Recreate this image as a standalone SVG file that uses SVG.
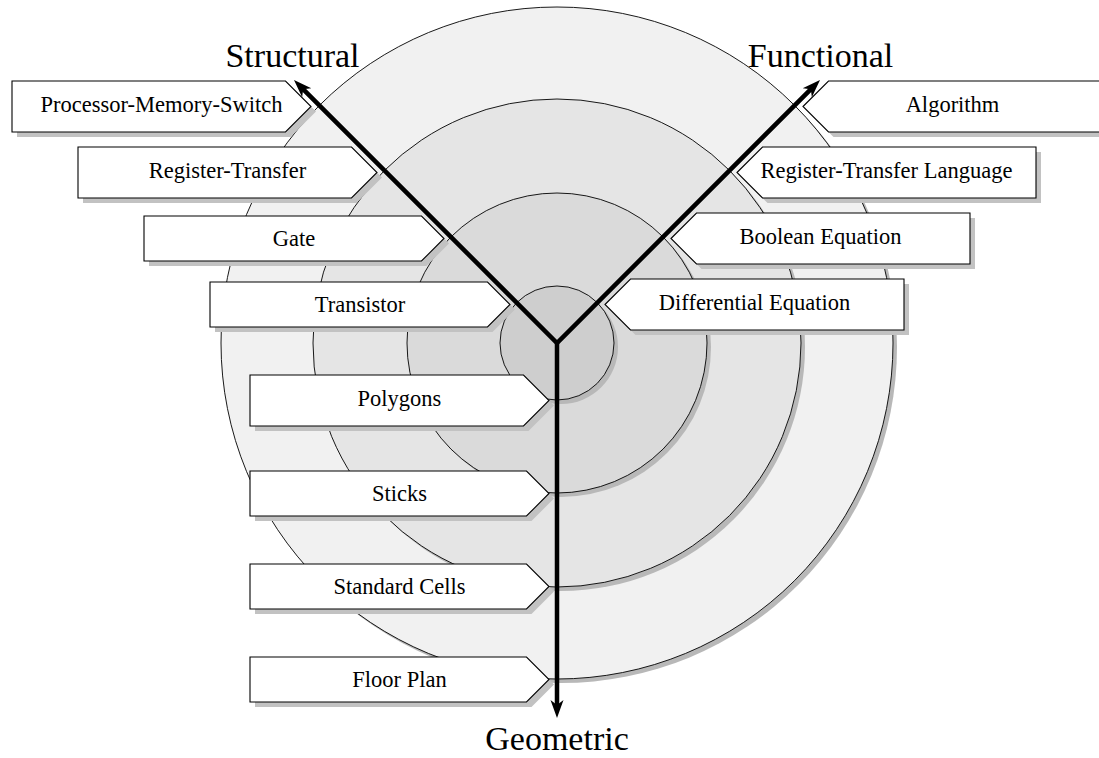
<svg xmlns="http://www.w3.org/2000/svg" width="1099" height="758" viewBox="0 0 1099 758">
  <style>
    .ring { stroke: #000; stroke-width: 0.9; }
    .ring-shadow { fill: #b8b8b8; }
    .box { fill: #fff; stroke: #000; stroke-width: 1.1; }
    .box-shadow { fill: #c2c2c2; }
    .lbl { font-family: "Liberation Serif", "Times New Roman", serif; font-size: 22.5px; fill: #000; text-anchor: middle; }
    .axis-lbl { font-family: "Liberation Serif", "Times New Roman", serif; font-size: 34px; fill: #000; text-anchor: middle; }
    .axis { fill: none; stroke: #000; stroke-width: 4.5; stroke-linejoin: miter; stroke-linecap: butt; }
  </style>
  <defs>
    <marker id="head" markerUnits="userSpaceOnUse" viewBox="0 0 20 16" markerWidth="20" markerHeight="16" refX="8" refY="8" orient="auto-start-reverse">
      <path d="M0,1.5 L18,8 L0,14.5 L5,8 Z" fill="#000"/>
    </marker>
  </defs>

  <rect width="1099" height="758" fill="#fff"/>

  <!-- concentric abstraction levels, each with an offset shadow -->
  <g id="levels">
    <circle class="ring-shadow" cx="561" cy="347" r="336"/>
    <circle class="ring" cx="557" cy="343" r="336" fill="#f1f1f1"/>
    <circle class="ring-shadow" cx="561" cy="347" r="244"/>
    <circle class="ring" cx="557" cy="343" r="244" fill="#e5e5e5"/>
    <circle class="ring-shadow" cx="561" cy="347" r="150"/>
    <circle class="ring" cx="557" cy="343" r="150" fill="#dadada"/>
    <circle class="ring-shadow" cx="561" cy="347" r="57"/>
    <circle class="ring" cx="557" cy="343" r="57" fill="#cecece"/>
  </g>

  <!-- the three domain axes -->
  <g id="connectors">
    <path class="axis" d="M301.07,87.07 L557,343 L812.93,87.07" marker-start="url(#head)" marker-end="url(#head)"/>
    <path class="axis" d="M557,343 L557,708" marker-end="url(#head)"/>
  </g>

  <g id="axis-labels">
    <text id="structural" class="axis-lbl" x="292.5" y="67">Structural</text>
    <text id="functional" class="axis-lbl" x="820.5" y="67">Functional</text>
    <text id="geometric" class="axis-lbl" x="557" y="750">Geometric</text>
  </g>

  <!-- structural domain -->
  <g id="pms">
    <polygon class="box-shadow" points="17,86 290.5,86 316,111.5 290.5,137 17,137"/>
    <polygon class="box" points="12,81 285.5,81 311,106.5 285.5,132 12,132"/>
    <text class="lbl" x="161.5" y="111.5">Processor-Memory-Switch</text>
  </g>
  <g id="register-transfer">
    <polygon class="box-shadow" points="83,152 356.5,152 382,177.5 356.5,203 83,203"/>
    <polygon class="box" points="78,147 351.5,147 377,172.5 351.5,198 78,198"/>
    <text class="lbl" x="227.5" y="177.5">Register-Transfer</text>
  </g>
  <g id="gate">
    <polygon class="box-shadow" points="149,221 426.5,221 449,243.5 426.5,266 149,266"/>
    <polygon class="box" points="144,216 421.5,216 444,238.5 421.5,261 144,261"/>
    <text class="lbl" x="294" y="246">Gate</text>
  </g>
  <g id="transistor">
    <polygon class="box-shadow" points="215,287 492.5,287 515,309.5 492.5,332 215,332"/>
    <polygon class="box" points="210,282 487.5,282 510,304.5 487.5,327 210,327"/>
    <text class="lbl" x="360" y="312">Transistor</text>
  </g>

  <!-- functional domain -->
  <g id="algorithm">
    <polygon class="box-shadow" points="808,111.5 833.5,86 1107,86 1107,137 833.5,137"/>
    <polygon class="box" points="803,106.5 828.5,81 1102,81 1102,132 828.5,132"/>
    <text class="lbl" x="952.5" y="111.5">Algorithm</text>
  </g>
  <g id="rtl">
    <polygon class="box-shadow" points="742,177.5 767.5,152 1041,152 1041,203 767.5,203"/>
    <polygon class="box" points="737,172.5 762.5,147 1036,147 1036,198 762.5,198"/>
    <text class="lbl" x="886.5" y="177.5">Register-Transfer Language</text>
  </g>
  <g id="boolean-equation">
    <polygon class="box-shadow" points="676,243.5 701.5,218 975,218 975,269 701.5,269"/>
    <polygon class="box" points="671,238.5 696.5,213 970,213 970,264 696.5,264"/>
    <text class="lbl" x="820.5" y="243.5">Boolean Equation</text>
  </g>
  <g id="differential-equation">
    <polygon class="box-shadow" points="610,309.5 635.5,284 909,284 909,335 635.5,335"/>
    <polygon class="box" points="605,304.5 630.5,279 904,279 904,330 630.5,330"/>
    <text class="lbl" x="754.5" y="309.5">Differential Equation</text>
  </g>

  <!-- geometric domain -->
  <g id="polygons">
    <polygon class="box-shadow" points="255,380 528.5,380 554,405.5 528.5,431 255,431"/>
    <polygon class="box" points="250,375 523.5,375 549,400.5 523.5,426 250,426"/>
    <text class="lbl" x="399.5" y="405.5">Polygons</text>
  </g>
  <g id="sticks">
    <polygon class="box-shadow" points="255,476 531.5,476 554,498.5 531.5,521 255,521"/>
    <polygon class="box" points="250,471 526.5,471 549,493.5 526.5,516 250,516"/>
    <text class="lbl" x="399.5" y="501">Sticks</text>
  </g>
  <g id="standard-cells">
    <polygon class="box-shadow" points="255,569 531.5,569 554,591.5 531.5,614 255,614"/>
    <polygon class="box" points="250,564 526.5,564 549,586.5 526.5,609 250,609"/>
    <text class="lbl" x="399.5" y="594">Standard Cells</text>
  </g>
  <g id="floor-plan">
    <polygon class="box-shadow" points="255,662 531.5,662 554,684.5 531.5,707 255,707"/>
    <polygon class="box" points="250,657 526.5,657 549,679.5 526.5,702 250,702"/>
    <text class="lbl" x="399.5" y="687">Floor Plan</text>
  </g>
</svg>
